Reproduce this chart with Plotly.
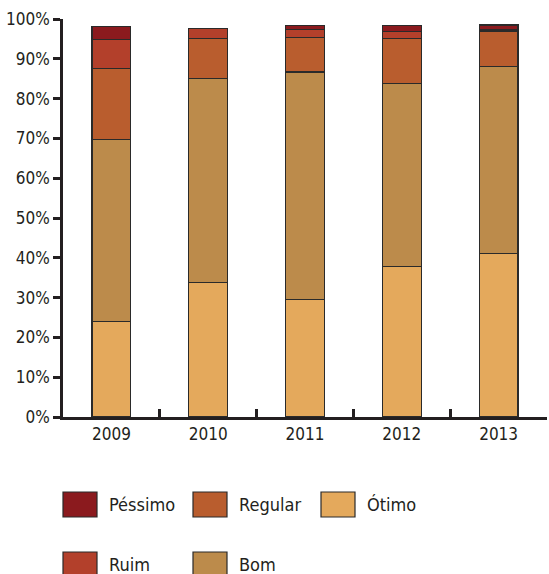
import plotly.graph_objects as go

years = ["2009", "2010", "2011", "2012", "2013"]
otimo = [23.9, 33.7, 29.6, 37.8, 41.0]
bom = [45.9, 51.4, 57.1, 45.9, 47.0]
regular = [17.7, 10.0, 8.6, 11.4, 9.0]
ruim = [7.3, 2.5, 2.1, 1.8, 0.4]
pessimo = [3.4, 0.0, 1.0, 1.4, 1.1]
y_ticks = [0, 10, 20, 30, 40, 50, 60, 70, 80, 90, 100]
y_tick_text = [f"{v}%" for v in y_ticks]

series = [
    ("Ótimo", otimo, "#E4A95C"),
    ("Bom", bom, "#BC8B4B"),
    ("Regular", regular, "#B95D2E"),
    ("Ruim", ruim, "#B3402B"),
    ("Péssimo", pessimo, "#8B1A1E"),
]

FONT = "DejaVu Sans Condensed, Liberation Sans Narrow, sans-serif"
TXT = "#231f20"
FS = 17

fig = go.Figure()
for name, vals, col in series:
    fig.add_trace(go.Bar(
        x=years, y=vals, name=name, marker_color=col,
        marker_line_color="#2a2a2a", marker_line_width=1.2,
        width=0.4, showlegend=False,
    ))

W, H = 549, 574
L, R, T, B = 63, 2, 19, 157
pw, ph = W - L - R, H - T - B

def px_x(X):
    return (X - L) / pw

def px_y(Y):
    return (H - B - Y) / ph

# custom legend (two rows, three columns like the reference)
legend_items = [
    ("Péssimo", "#8B1A1E", 63, 492),
    ("Regular", "#B95D2E", 193, 492),
    ("Ótimo", "#E4A95C", 321, 492),
    ("Ruim", "#B3402B", 63, 552),
    ("Bom", "#BC8B4B", 193, 552),
]
for name, col, bx, by in legend_items:
    fig.add_shape(type="rect", xref="paper", yref="paper",
                  x0=px_x(bx), x1=px_x(bx + 34), y0=px_y(by + 25), y1=px_y(by),
                  fillcolor=col, line=dict(color="#2a2a2a", width=1.2))
    fig.add_annotation(xref="paper", yref="paper", x=px_x(bx + 44), y=px_y(by + 12.5),
                       text=name, showarrow=False, xanchor="left", yanchor="middle",
                       font=dict(family=FONT, size=FS + 1, color=TXT))

fig.update_layout(
    barmode="stack",
    width=W, height=H,
    margin=dict(l=L, r=R, t=T, b=B, pad=0),
    paper_bgcolor="white", plot_bgcolor="white",
    font=dict(family=FONT, size=FS, color=TXT),
)
fig.update_xaxes(
    type="category", showline=True, linecolor=TXT, linewidth=2.5,
    ticks="inside", tickson="boundaries", ticklen=8, tickwidth=2.5, tickcolor=TXT,
    showgrid=False, zeroline=False, range=[-0.5, 4.5],
    tickfont=dict(family=FONT, size=FS, color=TXT),
)
fig.update_yaxes(
    range=[0, 100], tickvals=y_ticks, ticktext=y_tick_text,
    showline=True, linecolor=TXT, linewidth=2.5,
    ticks="outside", ticklen=7, tickwidth=2.5, tickcolor=TXT,
    showgrid=False, zeroline=False,
    tickfont=dict(family=FONT, size=FS, color=TXT),
)

fig.write_html("out.html")
